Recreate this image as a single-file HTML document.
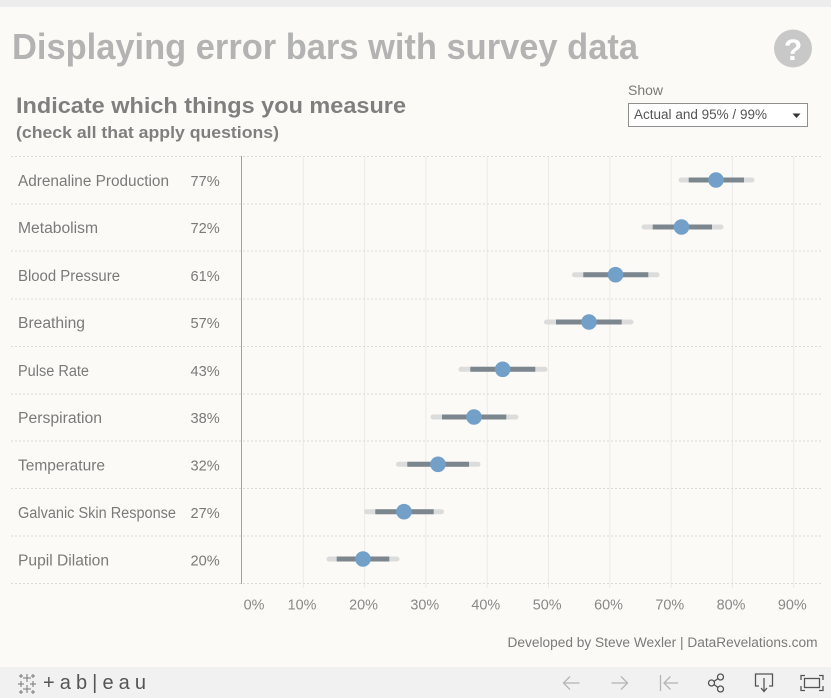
<!DOCTYPE html>
<html>
<head>
<meta charset="utf-8">
<style>
html,body{margin:0;padding:0;width:831px;height:698px;overflow:hidden;background:#fcfaf6;}
svg{display:block;}
text{font-family:"Liberation Sans",sans-serif;}
</style>
</head>
<body>
<svg width="831" height="698" viewBox="0 0 831 698" xmlns="http://www.w3.org/2000/svg">
  <rect x="0" y="0" width="831" height="698" fill="#fcfaf6"/>
  <rect x="0" y="0" width="831" height="7" fill="#ececec"/>

  <!-- Title -->
  <text x="12" y="59" font-size="36" font-weight="bold" fill="#b3b3b3" textLength="626" lengthAdjust="spacingAndGlyphs">Displaying error bars with survey data</text>
  <!-- Help icon -->
  <circle cx="793" cy="48.5" r="19" fill="#c8c8c8"/>
  <text x="793" y="60" font-size="30" font-weight="bold" fill="#ffffff" text-anchor="middle">?</text>

  <!-- Subtitle -->
  <text x="16" y="113" font-size="22" font-weight="bold" fill="#7f7f7f" textLength="390" lengthAdjust="spacingAndGlyphs">Indicate which things you measure</text>
  <text x="16" y="138" font-size="17" font-weight="bold" fill="#7f7f7f" textLength="263" lengthAdjust="spacingAndGlyphs">(check all that apply questions)</text>

  <!-- Show dropdown -->
  <text x="628" y="95" font-size="14" fill="#7a7a7a" textLength="35" lengthAdjust="spacingAndGlyphs">Show</text>
  <rect x="628.5" y="103.5" width="179" height="23" fill="#ffffff" stroke="#8f8f8f" stroke-width="1"/>
  <text x="634" y="119" font-size="13.5" fill="#555555" textLength="133" lengthAdjust="spacingAndGlyphs">Actual and 95% / 99%</text>
  <polygon points="792.5,113.5 800.5,113.5 796.5,118" fill="#333333"/>

  <!-- vertical gridlines -->
  <g stroke="#eceae6" stroke-width="1">
    <line x1="303.3" y1="156" x2="303.3" y2="588"/>
    <line x1="364.6" y1="156" x2="364.6" y2="588"/>
    <line x1="425.9" y1="156" x2="425.9" y2="588"/>
    <line x1="487.2" y1="156" x2="487.2" y2="588"/>
    <line x1="548.5" y1="156" x2="548.5" y2="588"/>
    <line x1="609.8" y1="156" x2="609.8" y2="588"/>
    <line x1="671.1" y1="156" x2="671.1" y2="588"/>
    <line x1="732.4" y1="156" x2="732.4" y2="588"/>
    <line x1="793.7" y1="156" x2="793.7" y2="588"/>
  </g>

  <!-- row dividers (dotted) -->
  <g stroke="#dedbd6" stroke-width="1" stroke-dasharray="2,2">
    <line x1="11" y1="156.5" x2="821" y2="156.5"/>
    <line x1="11" y1="204" x2="821" y2="204"/>
    <line x1="11" y1="251" x2="821" y2="251"/>
    <line x1="11" y1="299" x2="821" y2="299"/>
    <line x1="11" y1="346.5" x2="821" y2="346.5"/>
    <line x1="11" y1="394" x2="821" y2="394"/>
    <line x1="11" y1="441" x2="821" y2="441"/>
    <line x1="11" y1="488.5" x2="821" y2="488.5"/>
    <line x1="11" y1="536" x2="821" y2="536"/>
    <line x1="11" y1="583.5" x2="821" y2="583.5"/>
  </g>

  <!-- axis line -->
  <line x1="241.5" y1="156" x2="241.5" y2="584" stroke="#a0a0a0" stroke-width="1"/>

  <!-- row labels -->
  <g font-size="15.4" fill="#7a7a7a">
    <text x="18" y="186" textLength="151" lengthAdjust="spacingAndGlyphs">Adrenaline Production</text>
    <text x="18" y="233" textLength="80" lengthAdjust="spacingAndGlyphs">Metabolism</text>
    <text x="18" y="281" textLength="102" lengthAdjust="spacingAndGlyphs">Blood Pressure</text>
    <text x="18" y="328" textLength="67" lengthAdjust="spacingAndGlyphs">Breathing</text>
    <text x="18" y="376" textLength="71" lengthAdjust="spacingAndGlyphs">Pulse Rate</text>
    <text x="18" y="423" textLength="84" lengthAdjust="spacingAndGlyphs">Perspiration</text>
    <text x="18" y="470.5" textLength="87" lengthAdjust="spacingAndGlyphs">Temperature</text>
    <text x="18" y="518" textLength="158" lengthAdjust="spacingAndGlyphs">Galvanic Skin Response</text>
    <text x="18" y="565.5" textLength="91" lengthAdjust="spacingAndGlyphs">Pupil Dilation</text>
  </g>
  <g font-size="14.6" fill="#7a7a7a">
    <text x="190.5" y="186">77%</text>
    <text x="190.5" y="233">72%</text>
    <text x="190.5" y="281">61%</text>
    <text x="190.5" y="328">57%</text>
    <text x="190.5" y="376">43%</text>
    <text x="190.5" y="423">38%</text>
    <text x="190.5" y="470.5">32%</text>
    <text x="190.5" y="518">27%</text>
    <text x="190.5" y="565.5">20%</text>
  </g>

  <!-- error bars -->
  <g stroke-linecap="round" stroke-width="5" stroke="#dcdcdc">
    <line x1="681" y1="180" x2="752" y2="180"/>
    <line x1="644" y1="227" x2="721" y2="227"/>
    <line x1="574.5" y1="274.7" x2="657" y2="274.7"/>
    <line x1="546.5" y1="322" x2="631" y2="322"/>
    <line x1="461" y1="369.3" x2="545" y2="369.3"/>
    <line x1="433" y1="417" x2="516" y2="417"/>
    <line x1="398.5" y1="464.3" x2="478" y2="464.3"/>
    <line x1="366.5" y1="511.7" x2="441.5" y2="511.7"/>
    <line x1="329" y1="559" x2="397" y2="559"/>
  </g>
  <g stroke-width="5" stroke="#7b868e">
    <line x1="688.7" y1="180" x2="744" y2="180"/>
    <line x1="652.7" y1="227" x2="712" y2="227"/>
    <line x1="583.3" y1="274.7" x2="648.3" y2="274.7"/>
    <line x1="556" y1="322" x2="621.7" y2="322"/>
    <line x1="470.3" y1="369.3" x2="535.3" y2="369.3"/>
    <line x1="442" y1="417" x2="506.3" y2="417"/>
    <line x1="407.3" y1="464.3" x2="469" y2="464.3"/>
    <line x1="375.3" y1="511.7" x2="433.7" y2="511.7"/>
    <line x1="336.7" y1="559" x2="389.3" y2="559"/>
  </g>
  <g fill="#72a0c9">
    <circle cx="716" cy="180" r="7.8"/>
    <circle cx="681.5" cy="227" r="7.8"/>
    <circle cx="615.5" cy="274.7" r="7.8"/>
    <circle cx="589" cy="322" r="7.8"/>
    <circle cx="502.7" cy="369.3" r="7.8"/>
    <circle cx="474" cy="417" r="7.8"/>
    <circle cx="438" cy="464.3" r="7.8"/>
    <circle cx="404" cy="511.7" r="7.8"/>
    <circle cx="363" cy="559" r="7.8"/>
  </g>

  <!-- x tick labels -->
  <g font-size="14.4" fill="#888888" text-anchor="middle">
    <text x="254" y="609.5">0%</text>
    <text x="302" y="609.5">10%</text>
    <text x="363.5" y="609.5">20%</text>
    <text x="424.8" y="609.5">30%</text>
    <text x="485.8" y="609.5">40%</text>
    <text x="547.2" y="609.5">50%</text>
    <text x="608.5" y="609.5">60%</text>
    <text x="669.8" y="609.5">70%</text>
    <text x="731" y="609.5">80%</text>
    <text x="792.3" y="609.5">90%</text>
  </g>

  <!-- footer credit -->
  <text x="507.5" y="647" font-size="13.5" fill="#7a7a7a" textLength="310" lengthAdjust="spacingAndGlyphs">Developed by Steve Wexler | DataRevelations.com</text>

  <!-- toolbar -->
  <rect x="0" y="667" width="831" height="31" fill="#f1f1f1"/>
  <!-- tableau logo cluster -->
  <g stroke="#777" stroke-width="1">
    <line x1="27" y1="674" x2="27" y2="682"/><line x1="23" y1="678" x2="31" y2="678"/>
    <line x1="27" y1="685" x2="27" y2="693"/><line x1="23" y1="689" x2="31" y2="689"/>
    <line x1="21" y1="681" x2="21" y2="687"/><line x1="18" y1="684" x2="24" y2="684"/>
    <line x1="33" y1="681" x2="33" y2="687"/><line x1="30" y1="684" x2="36" y2="684"/>
    <line x1="21" y1="674" x2="21" y2="678"/><line x1="19" y1="676" x2="23" y2="676"/>
    <line x1="33" y1="674" x2="33" y2="678"/><line x1="31" y1="676" x2="35" y2="676"/>
    <line x1="21" y1="690" x2="21" y2="694"/><line x1="19" y1="692" x2="23" y2="692"/>
    <line x1="33" y1="690" x2="33" y2="694"/><line x1="31" y1="692" x2="35" y2="692"/>
  </g>
  <text x="43" y="689" font-size="20" fill="#555555" textLength="103" lengthAdjust="spacing">+ a b | e a u</text>

  <!-- nav icons -->
  <g fill="none" stroke="#b5b5b5" stroke-width="1.3">
    <line x1="563.5" y1="683" x2="579.5" y2="683"/><polyline points="570,676.5 563.5,683 570,689.5"/>
    <line x1="611.5" y1="683" x2="627.5" y2="683"/><polyline points="621,676.5 627.5,683 621,689.5"/>
    <line x1="660.5" y1="675" x2="660.5" y2="691"/><line x1="664" y1="683" x2="678" y2="683"/><polyline points="670.5,676.5 664,683 670.5,689.5"/>
  </g>
  <g fill="none" stroke="#555555" stroke-width="1.3">
    <circle cx="711.5" cy="683" r="3"/>
    <circle cx="720.5" cy="677" r="3"/>
    <circle cx="720.5" cy="689" r="3"/>
    <line x1="714" y1="681.5" x2="718" y2="678.5"/>
    <line x1="714" y1="684.5" x2="718" y2="687.5"/>
    <polyline points="759,686 755.5,686 755.5,674 772.5,674 772.5,686 769,686"/>
    <line x1="764" y1="678" x2="764" y2="691"/><polyline points="761,688 764,691.5 767,688"/>
    <polyline points="801,680 801,675.5 805,675.5"/>
    <polyline points="819,675.5 823,675.5 823,680"/>
    <polyline points="801,686 801,690.5 805,690.5"/>
    <polyline points="819,690.5 823,690.5 823,686"/>
    <rect x="804.5" y="678.5" width="15" height="9"/>
  </g>
</svg>
</body>
</html>
